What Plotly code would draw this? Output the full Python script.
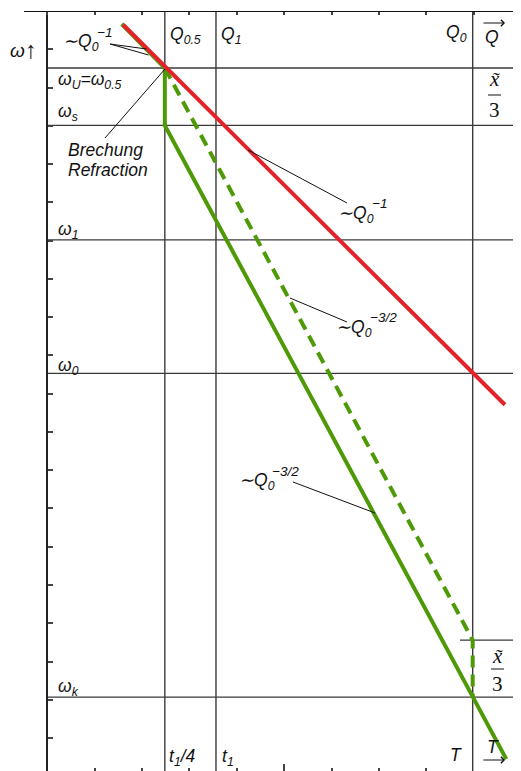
import plotly.graph_objects as go

# ---------------- data (chart units: x in tick steps, y in tick steps, omega upward) ----
x_marks = [2.48, 3.56, 8.98]                      # Q0.5 / t1/4, Q1 / t1, Q0 / T
top_labels = ["Q<sub>0.5</sub>", "Q<sub>1</sub>", "Q<sub>0</sub>"]
bottom_labels = ["t<sub>1</sub>/4", "t<sub>1</sub>", "T"]
y_levels = [-1.49, -2.99, -5.98, -9.47, -17.93]   # omega_U, omega_s, omega_1, omega_0, omega_k
y_labels = ["ω<sub>U</sub>=ω<sub>0.5</sub>", "ω<sub>s</sub>", "ω<sub>1</sub>",
            "ω<sub>0</sub>", "ω<sub>k</sub>"]
x_tilde_level = -16.44
top_ticks = list(range(0, 10))
bottom_ticks_major = [5]
bottom_ticks_minor = [1, 2, 3, 4, 6, 7, 8]
left_ticks = list(range(0, -20, -1))

red_x = [1.60, 9.66]
red_y = [-0.36, -10.29]
green_solid_x = [1.57, 2.48, 2.48, 8.98, 9.69]
green_solid_y = [-0.34, -1.49, -2.99, -17.93, -19.55]
green_dash_x = [2.48, 8.98, 8.98]
green_dash_y = [-1.49, -16.44, -17.93]

# ---------------- layout helpers ----------------
VW, VH = 521, 771          # browser window
PAGE = 8                   # default body margin of the html page
W, H = VW - PAGE, VH - PAGE
UX = VW / 11.0             # pixels per x unit
UY = 760 / 19.86           # pixels per y unit
TOPLINE = 11               # window y of the top line (y = 0)


def px2x(px):
    return px / UX - 1


def py2y(py):
    return -(py - TOPLINE) / UY


XR = [px2x(PAGE), px2x(VW)]
YR = [py2y(VH), 0]

RED = "#e2242a"
GREEN = "#4e9a06"
GRID = "#3a3a3a"
FONT = "Liberation Sans"
SERIF = "Liberation Serif"
FS = 17.5

fig = go.Figure()

fig.add_trace(go.Scatter(x=green_solid_x, y=green_solid_y, mode="lines",
                         line=dict(color=GREEN, width=4), hoverinfo="skip"))
fig.add_trace(go.Scatter(x=green_dash_x, y=green_dash_y, mode="lines",
                         line=dict(color=GREEN, width=4, dash="12px,7px"), hoverinfo="skip"))
fig.add_trace(go.Scatter(x=red_x, y=red_y, mode="lines",
                         line=dict(color=RED, width=4), hoverinfo="skip"))
# invisible trace to carry the bottom tick axis
fig.add_trace(go.Scatter(x=[XR[0]], y=[YR[0]], xaxis="x2", mode="markers",
                         marker=dict(opacity=0), hoverinfo="skip"))

shapes = []
# top border line
shapes.append(dict(type="line", xref="x", yref="y", x0=px2x(24), x1=XR[1], y0=0, y1=0,
                   line=dict(color="#111", width=2)))
# vertical lines
for xv in x_marks:
    shapes.append(dict(type="line", xref="x", yref="y", x0=xv, x1=xv, y0=0, y1=YR[0],
                       line=dict(color=GRID, width=1.4), layer="below"))
# horizontal lines
for yv in y_levels:
    shapes.append(dict(type="line", xref="x", yref="y", x0=0, x1=XR[1], y0=yv, y1=yv,
                       line=dict(color=GRID, width=1.4), layer="below"))
shapes.append(dict(type="line", xref="x", yref="y", x0=px2x(460), x1=XR[1],
                   y0=x_tilde_level, y1=x_tilde_level,
                   line=dict(color=GRID, width=1.4), layer="below"))
# leader lines (window pixel positions of label ends -> chart units)
leaders = [
    ((110, 44), (146.5, 49)),
    ((110, 44), (148.5, 55)),
    ((105, 138), (165, 69)),
    ((248, 150), (347, 203)),
    ((290, 298), (347, 322)),
    ((293, 482), (375, 513)),
]
for (a, b) in leaders:
    shapes.append(dict(type="line", xref="x", yref="y", x0=px2x(a[0]), y0=py2y(a[1]),
                       x1=px2x(b[0]), y1=py2y(b[1]), line=dict(color="#111", width=1)))
# fraction bars
for (xa, xb, yb) in [(488, 501, 95), (491, 504, 669)]:
    shapes.append(dict(type="line", xref="x", yref="y", x0=px2x(xa), x1=px2x(xb),
                       y0=py2y(yb), y1=py2y(yb), line=dict(color="#111", width=1)))

ann = []


def label(text, px, py, size=FS, xanchor="left", family=FONT, color="#111"):
    ann.append(dict(text=text, x=px2x(px), y=py2y(py), xref="x", yref="y",
                    xanchor=xanchor, yanchor="middle", showarrow=False,
                    font=dict(family=family, size=size, color=color)))


def arrow(p_from, p_to, both=False, width=1.2, size=1.2):
    d = dict(text="", x=px2x(p_to[0]), y=py2y(p_to[1]), ax=px2x(p_from[0]),
             ay=py2y(p_from[1]), xref="x", yref="y", axref="x", ayref="y",
             showarrow=True, arrowhead=4, arrowsize=size, arrowwidth=width,
             arrowcolor="#111", standoff=0)
    if both:
        d.update(arrowside="end+start", startarrowhead=4, startarrowsize=size,
                 startstandoff=0)
    ann.append(d)


# axis corner labels
label("<i>ω</i>", 8, 50, size=19)
label("↑", 31, 49, size=24, xanchor="center")
# top labels
label("<i>" + top_labels[0] + "</i>", 168, 35)
label("<i>" + top_labels[1] + "</i>", 219, 35)
label("<i>" + top_labels[2] + "</i>", 469, 33, xanchor="right")
label("<i>Q</i>", 492, 37, xanchor="center")
arrow((482, 23), (505, 23), width=1.1, size=1.1)
# bottom labels
label("<i>" + bottom_labels[0] + "</i>", 167, 757)
label("<i>" + bottom_labels[1] + "</i>", 220, 757)
label("<i>" + bottom_labels[2] + "</i>", 464, 755, xanchor="right")
label("<i>T</i>", 493, 747, xanchor="center")
arrow((482, 760), (505, 760), width=1.1, size=1.1)
# omega labels
for txt, py in zip(y_labels, [80, 112, 230, 366, 687]):
    label("<i>" + txt + "</i>", 56, py)
# refraction
label("<i>Brechung</i>", 66, 150)
label("<i>Refraction</i>", 66, 170)
# power law labels: main part + stacked superscript
for (pxl, pyl, sup, pxs, pys) in [
    (61, 42, "−1", 95, 32),
    (336, 214, "−1", 370, 203),
    (334, 328, "−3/2", 368, 317),
    (237, 481, "−3/2", 270, 471),
]:
    label("<i>∼Q<sub>0</sub></i>", pxl, pyl)
    label("<i>" + sup + "</i>", pxs, pys, size=13.5)
# x-tilde / 3
for (pxt, pyt, py3) in [(494, 79, 110), (497, 656, 684)]:
    label("<i>x̃</i>", pxt, pyt, size=21, xanchor="center", family=SERIF)
    label("3", pxt, py3, size=21, xanchor="center", family=SERIF)
# double arrows
arrow((517.5, 125), (517.5, 68), both=True, size=1.25)
arrow((518.5, 697), (518.5, 640), both=True, size=1.25)

fig.update_layout(
    width=W, height=H,
    margin=dict(l=0, r=0, t=TOPLINE - PAGE, b=0),
    paper_bgcolor="white", plot_bgcolor="white",
    showlegend=False,
    shapes=shapes,
    annotations=ann,
    xaxis=dict(range=XR, side="top", ticks="inside", ticklen=4, tickwidth=1.5,
               tickcolor="#444", tickvals=top_ticks, showticklabels=False,
               showgrid=False, zeroline=False, showline=False, fixedrange=True),
    xaxis2=dict(range=XR, overlaying="x", side="bottom", ticks="inside", ticklen=7,
                tickwidth=1.5, tickcolor="#444", tickvals=bottom_ticks_major,
                minor=dict(tickmode="array", tickvals=bottom_ticks_minor, ticks="inside",
                           ticklen=3, tickwidth=1.5, tickcolor="#444", showgrid=False),
                showticklabels=False, showgrid=False, zeroline=False, showline=False),
    yaxis=dict(range=YR, anchor="free", position=(0 - XR[0]) / (XR[1] - XR[0]),
               side="left", ticks="inside", ticklen=5, tickwidth=2, tickcolor="#444",
               tickvals=left_ticks, showticklabels=False, showgrid=False,
               zeroline=False, showline=True, linecolor="#222", linewidth=1.5),
)

fig.write_html("out.html")
